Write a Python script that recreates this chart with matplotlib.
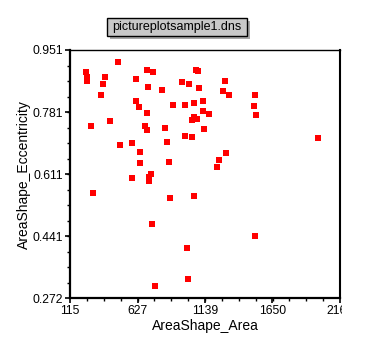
import matplotlib
matplotlib.use("Agg")
import matplotlib.pyplot as plt
from matplotlib.ticker import FixedLocator
from matplotlib.patches import Rectangle
from matplotlib.transforms import Bbox, TransformedBbox

plt.rcParams['font.family'] = ['Liberation Sans', 'DejaVu Sans']

title_text = "pictureplotsample1.dns"
x_label = "AreaShape_Area"
y_label = "AreaShape_Eccentricity"

x_ticks = [115, 627, 1139, 1650, 2162]
x_tick_labels = ["115", "627", "1139", "1650", "2162"]
y_ticks = [0.272, 0.441, 0.611, 0.781, 0.951]
y_tick_labels = ["0.272", "0.441", "0.611", "0.781", "0.951"]

area = [478.9, 238.6, 246.2, 246.2, 382.6, 367.5, 347.8, 276.5, 420.5, 701.1,
        746.5, 615.4, 708.6, 615.4, 635.8, 701.1, 685.9, 701.1, 1068.0, 1087.7,
        966.4, 1019.5, 1095.3, 814.8, 1292.4, 1277.2, 1322.7, 898.2, 989.1, 1052.8,
        1125.6, 1125.6, 1171.1, 1052.8, 1042.2, 1080.1, 837.5, 1133.2, 989.1, 1042.2,
        1517.6, 1510.0, 1525.2, 1997.5, 494.1, 587.3, 645.7, 645.7, 587.3, 731.4,
        716.2, 716.2, 291.6, 852.7, 1300.0, 1246.9, 1229.5, 867.8, 875.4, 1052.8,
        739.0, 1517.6, 1004.3, 1011.9, 759.4]
ecc = [0.917, 0.890, 0.876, 0.865, 0.876, 0.857, 0.827, 0.742, 0.756, 0.8955,
       0.890, 0.871, 0.849, 0.812, 0.794, 0.778, 0.742, 0.731, 0.8955, 0.893,
       0.863, 0.857, 0.846, 0.841, 0.865, 0.838, 0.827, 0.801, 0.800, 0.807,
       0.812, 0.783, 0.775, 0.767, 0.759, 0.7615, 0.737, 0.734, 0.716, 0.713,
       0.827, 0.797, 0.772, 0.711, 0.690, 0.696, 0.671, 0.641, 0.600, 0.612,
       0.605, 0.593, 0.559, 0.699, 0.669, 0.649, 0.630, 0.644, 0.5455, 0.551,
       0.474, 0.4416, 0.409, 0.325, 0.305]

W, H = 368, 361
fig = plt.figure(figsize=(W / 100, H / 100), dpi=100)
ax = fig.add_axes([70 / W, 1 - 298.3 / H, 270 / W, 248.3 / H])

ax.scatter(area, ecc, marker='s', s=18, color='#ff0000', linewidths=0, zorder=3)

ax.set_xlim(x_ticks[0], x_ticks[-1])
ax.set_ylim(y_ticks[0], y_ticks[-1])
ax.xaxis.set_major_locator(FixedLocator(x_ticks))
ax.yaxis.set_major_locator(FixedLocator(y_ticks))
ax.set_xticklabels(x_tick_labels)
ax.set_yticklabels(y_tick_labels)
ax.xaxis.set_minor_locator(FixedLocator([x_ticks[0] + i * (x_ticks[-1] - x_ticks[0]) / 16 for i in range(17)]))
ax.yaxis.set_minor_locator(FixedLocator([y_ticks[0] + i * (y_ticks[-1] - y_ticks[0]) / 16 for i in range(17)]))

ax.tick_params(which='major', direction='out', length=3.5, width=1.2, labelsize=8.7, pad=1.5, colors='black')
ax.tick_params(which='minor', direction='out', length=2, width=1)
ax.tick_params(top=False, right=False, which='both')

for s in ['left', 'bottom']:
    ax.spines[s].set_linewidth(1.6)
ax.spines['right'].set_linewidth(1.5)
ax.spines['top'].set_linewidth(1.0)

ax.set_xlabel(x_label, fontsize=10, labelpad=1)
ax.set_ylabel(y_label, fontsize=10, labelpad=1)

# title box with shadow
bx0, by0, bw, bh = 107.3, 18.3, 139.4, 17.7
shadow = Rectangle(((bx0 + 3) / W, 1 - (by0 + bh + 3) / H), bw / W, bh / H,
                   transform=fig.transFigure, facecolor='#a8a8a8', edgecolor='none', zorder=1)
box = Rectangle((bx0 / W, 1 - (by0 + bh) / H), bw / W, bh / H,
                transform=fig.transFigure, facecolor='#c8c8c8', edgecolor='black', linewidth=1, zorder=2)
fig.patches.extend([shadow, box])
fig.text((bx0 + bw / 2) / W, 1 - (by0 + bh / 2) / H, title_text, ha='center', va='center',
         fontsize=9, zorder=3)

fig.canvas.draw()
clip = TransformedBbox(Bbox([[0, 0], [342 / W, 1]]), fig.transFigure)
for lab in ax.get_xticklabels():
    lab.set_clip_box(clip)
    lab.set_clip_on(True)

fig.savefig("out.png", dpi=100)
